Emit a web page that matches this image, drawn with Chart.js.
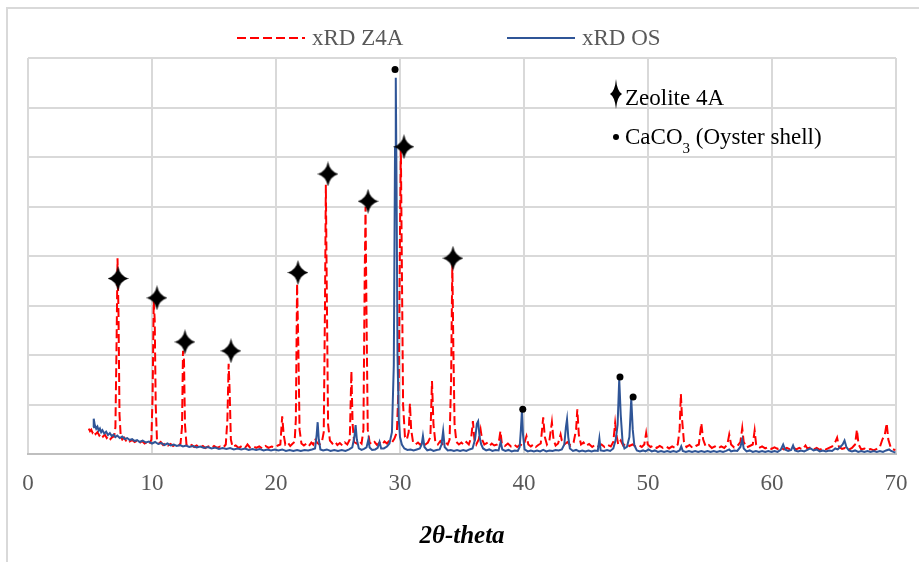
<!DOCTYPE html>
<html>
<head>
<meta charset="utf-8">
<script src="https://cdn.jsdelivr.net/npm/chart.js@4.4.1/dist/chart.umd.min.js"></script>
<style>
  html, body { margin: 0; padding: 0; background: #fff; }
  canvas { display: block; }
</style>
</head>
<body>
<canvas id="xrd" width="919" height="562"></canvas>
<script>
// x axis ticks (2θ, degrees)
const thetaTicks = [0, 10, 20, 30, 40, 50, 60, 70];

// Zeolite 4A pattern: [2θ, intensity in grid units]
const z4a = [
  [4.9,0.52],[5.0,0.47],[5.1,0.50],[5.2,0.44],[5.3,0.48],[5.45,0.41],[5.6,0.45],[5.75,0.38],[5.9,0.42],[6.05,0.36],
  [6.2,0.40],[6.35,0.33],[6.5,0.37],[6.65,0.31],[6.8,0.35],[6.95,0.36],[7.05,0.55],[7.15,2.4],[7.22,3.96],[7.3,2.8],
  [7.38,0.8],[7.48,0.36],[7.6,0.30],[7.75,0.34],[7.9,0.28],[8.05,0.31],[8.2,0.26],[8.4,0.29],[8.6,0.25],[8.8,0.28],
  [9.0,0.23],[9.2,0.27],[9.4,0.22],[9.6,0.25],[9.8,0.21],[9.95,0.30],[10.05,1.2],[10.14,3.1],[10.22,2.7],[10.3,1.0],
  [10.4,0.3],[10.55,0.22],[10.7,0.25],[10.9,0.19],[11.1,0.23],[11.3,0.18],[11.5,0.21],[11.7,0.17],[11.9,0.20],[12.1,0.16],
  [12.3,0.22],[12.42,0.55],[12.5,2.09],[12.58,1.9],[12.66,0.6],[12.78,0.2],[12.95,0.16],[13.2,0.19],[13.4,0.15],[13.6,0.18],
  [13.85,0.14],[14.1,0.17],[14.3,0.13],[14.55,0.16],[14.8,0.13],[15.0,0.17],[15.25,0.13],[15.5,0.16],[15.75,0.14],[15.95,0.2],
  [16.08,0.7],[16.18,1.83],[16.26,1.3],[16.36,0.3],[16.5,0.15],[16.75,0.18],[17.0,0.13],[17.25,0.17],[17.5,0.13],[17.7,0.2],
  [17.9,0.14],[18.15,0.17],[18.4,0.13],[18.65,0.16],[18.9,0.12],[19.15,0.17],[19.4,0.13],[19.65,0.16],[19.9,0.14],[20.15,0.18],
  [20.35,0.2],[20.5,0.77],[20.62,0.4],[20.75,0.2],[20.95,0.24],[21.15,0.17],[21.35,0.22],[21.5,0.25],[21.6,0.7],[21.7,3.45],
  [21.8,2.2],[21.9,0.5],[22.05,0.22],[22.25,0.18],[22.45,0.22],[22.65,0.17],[22.85,0.24],[23.0,0.2],[23.15,0.32],[23.3,0.24],
  [23.5,0.2],[23.7,0.25],[23.85,0.45],[23.95,3.0],[24.02,5.44],[24.1,3.2],[24.2,0.6],[24.35,0.28],[24.55,0.22],[24.75,0.26],
  [24.95,0.19],[25.15,0.23],[25.35,0.18],[25.55,0.24],[25.75,0.2],[25.95,0.3],[26.08,1.68],[26.18,0.6],[26.3,0.25],[26.5,0.22],
  [26.7,0.27],[26.9,0.22],[27.05,0.5],[27.15,3.5],[27.22,5.0],[27.3,2.8],[27.4,0.5],[27.55,0.24],[27.75,0.2],[27.95,0.25],
  [28.15,0.19],[28.35,0.24],[28.55,0.2],[28.75,0.26],[28.95,0.22],[29.15,0.28],[29.35,0.24],[29.55,0.32],[29.75,0.45],[29.9,1.5],
  [30.0,4.5],[30.07,6.15],[30.15,3.8],[30.25,1.0],[30.4,0.35],[30.55,0.3],[30.7,0.45],[30.8,1.03],[30.9,0.5],[31.05,0.25],
  [31.25,0.2],[31.45,0.24],[31.65,0.19],[31.85,0.25],[32.05,0.2],[32.25,0.24],[32.45,0.35],[32.58,1.48],[32.7,0.6],[32.85,0.25],
  [33.05,0.2],[33.25,0.27],[33.45,0.21],[33.65,0.25],[33.85,0.2],[34.0,0.3],[34.12,1.5],[34.22,3.87],[34.3,2.2],[34.4,0.6],
  [34.55,0.25],[34.75,0.2],[34.95,0.24],[35.15,0.19],[35.35,0.25],[35.55,0.2],[35.75,0.35],[35.88,0.67],[36.0,0.3],[36.15,0.2],
  [36.35,0.3],[36.5,0.5],[36.62,0.3],[36.8,0.2],[37.0,0.23],[37.2,0.17],[37.4,0.22],[37.6,0.18],[37.85,0.2],[38.0,0.3],
  [38.1,0.47],[38.22,0.2],[38.45,0.17],[38.7,0.22],[38.95,0.16],[39.2,0.2],[39.45,0.15],[39.7,0.2],[39.9,0.17],[40.05,0.25],
  [40.2,0.37],[40.35,0.2],[40.55,0.16],[40.75,0.2],[40.95,0.15],[41.15,0.19],[41.35,0.22],[41.55,0.75],[41.68,0.35],[41.85,0.2],
  [42.05,0.28],[42.25,0.65],[42.38,0.3],[42.55,0.18],[42.75,0.22],[42.95,0.4],[43.05,0.28],[43.25,0.2],[43.5,0.25],[43.75,0.18],
  [44.0,0.24],[44.2,0.5],[44.3,0.91],[44.42,0.4],[44.6,0.2],[44.8,0.24],[45.0,0.17],[45.25,0.21],[45.5,0.15],[45.75,0.2],
  [46.0,0.16],[46.25,0.2],[46.5,0.15],[46.75,0.19],[47.0,0.16],[47.2,0.25],[47.35,0.63],[47.45,0.4],[47.6,0.2],[47.8,0.28],
  [48.0,0.18],[48.25,0.22],[48.5,0.17],[48.75,0.2],[49.0,0.16],[49.25,0.19],[49.5,0.15],[49.7,0.2],[49.85,0.43],[49.98,0.2],
  [50.2,0.15],[50.45,0.18],[50.7,0.13],[50.95,0.17],[51.2,0.13],[51.45,0.16],[51.7,0.12],[51.95,0.16],[52.2,0.13],[52.4,0.2],
  [52.55,0.5],[52.65,1.22],[52.75,0.7],[52.9,0.25],[53.1,0.15],[53.35,0.19],[53.6,0.13],[53.85,0.17],[54.1,0.2],[54.3,0.63],
  [54.45,0.3],[54.65,0.16],[54.9,0.19],[55.15,0.13],[55.4,0.16],[55.65,0.12],[55.9,0.16],[56.15,0.13],[56.4,0.2],[56.55,0.4],
  [56.7,0.2],[56.95,0.14],[57.2,0.17],[57.45,0.25],[57.6,0.53],[57.72,0.25],[57.95,0.14],[58.2,0.17],[58.45,0.2],[58.6,0.48],
  [58.72,0.2],[58.95,0.13],[59.2,0.16],[59.45,0.12],[59.7,0.15],[59.95,0.11],[60.2,0.14],[60.45,0.11],[60.7,0.14],[60.95,0.1],
  [61.2,0.13],[61.45,0.1],[61.7,0.14],[61.95,0.1],[62.2,0.13],[62.45,0.1],[62.7,0.18],[62.85,0.12],[63.1,0.14],[63.35,0.1],
  [63.6,0.13],[63.85,0.09],[64.1,0.13],[64.35,0.1],[64.6,0.13],[64.85,0.16],[65.1,0.25],[65.25,0.34],[65.4,0.15],[65.65,0.11],
  [65.9,0.13],[66.15,0.09],[66.45,0.13],[66.7,0.2],[66.85,0.5],[66.98,0.2],[67.2,0.1],[67.45,0.12],[67.7,0.09],[67.95,0.11],
  [68.2,0.08],[68.45,0.11],[68.7,0.15],[68.9,0.3],[69.1,0.4],[69.25,0.63],[69.38,0.3],[69.6,0.12],[69.8,0.1],[69.95,0.09]
];

// oyster shell pattern: [2θ, intensity in grid units]
const os = [
  [5.25,0.55],[5.3,0.72],[5.38,0.6],[5.5,0.52],[5.6,0.56],[5.7,0.48],[5.8,0.52],[5.9,0.45],[6.0,0.49],[6.15,0.42],
  [6.3,0.46],[6.45,0.39],[6.6,0.43],[6.75,0.37],[6.9,0.40],[7.05,0.35],[7.2,0.38],[7.4,0.33],[7.6,0.36],[7.8,0.31],
  [8.0,0.33],[8.2,0.29],[8.4,0.31],[8.6,0.27],[8.8,0.29],[9.0,0.25],[9.25,0.28],[9.5,0.24],[9.75,0.26],[10.0,0.22],
  [10.25,0.25],[10.5,0.21],[10.75,0.23],[11.0,0.19],[11.25,0.22],[11.5,0.18],[11.75,0.2],[12.0,0.17],[12.25,0.19],[12.5,0.16],
  [12.75,0.18],[13.0,0.15],[13.3,0.17],[13.6,0.14],[13.9,0.16],[14.2,0.13],[14.5,0.15],[14.8,0.12],[15.1,0.14],[15.4,0.11],
  [15.7,0.13],[16.0,0.11],[16.3,0.13],[16.6,0.1],[16.9,0.12],[17.2,0.1],[17.5,0.12],[17.8,0.09],[18.1,0.11],[18.4,0.09],
  [18.7,0.11],[19.0,0.08],[19.3,0.1],[19.6,0.08],[19.9,0.1],[20.2,0.08],[20.5,0.1],[20.8,0.07],[21.1,0.09],[21.4,0.07],
  [21.7,0.09],[22.0,0.07],[22.3,0.09],[22.6,0.08],[22.9,0.1],[23.15,0.12],[23.28,0.4],[23.36,0.65],[23.45,0.3],[23.58,0.1],
  [23.8,0.08],[24.1,0.1],[24.4,0.07],[24.7,0.09],[25.0,0.07],[25.3,0.09],[25.6,0.07],[25.9,0.1],[26.15,0.14],[26.32,0.35],
  [26.42,0.59],[26.52,0.3],[26.68,0.12],[26.9,0.09],[27.1,0.11],[27.3,0.14],[27.45,0.3],[27.55,0.14],[27.75,0.09],[28.0,0.1],
  [28.2,0.13],[28.35,0.25],[28.48,0.12],[28.7,0.12],[28.95,0.16],[29.15,0.22],[29.35,0.45],[29.5,1.8],[29.6,6.2],[29.66,7.6],
  [29.72,5.5],[29.8,2.0],[29.9,0.7],[30.0,0.35],[30.15,0.2],[30.35,0.12],[30.6,0.09],[30.85,0.1],[31.1,0.08],[31.35,0.1],
  [31.6,0.12],[31.75,0.2],[31.85,0.37],[31.97,0.15],[32.2,0.08],[32.45,0.1],[32.7,0.07],[32.95,0.09],[33.2,0.1],[33.35,0.2],
  [33.48,0.47],[33.6,0.15],[33.85,0.08],[34.1,0.09],[34.35,0.07],[34.6,0.09],[34.85,0.07],[35.1,0.09],[35.35,0.07],[35.6,0.1],
  [35.85,0.12],[36.05,0.3],[36.2,0.62],[36.3,0.67],[36.42,0.35],[36.55,0.2],[36.7,0.12],[36.95,0.08],[37.2,0.1],[37.45,0.07],
  [37.7,0.09],[37.95,0.08],[38.12,0.25],[38.25,0.1],[38.5,0.07],[38.75,0.09],[39.0,0.06],[39.25,0.08],[39.5,0.07],[39.65,0.15],
  [39.75,0.5],[39.83,0.87],[39.92,0.4],[40.05,0.1],[40.3,0.06],[40.55,0.08],[40.8,0.06],[41.05,0.08],[41.3,0.06],[41.55,0.09],
  [41.8,0.06],[42.05,0.08],[42.3,0.07],[42.55,0.09],[42.8,0.08],[43.05,0.1],[43.25,0.2],[43.38,0.55],[43.47,0.71],[43.57,0.35],
  [43.7,0.12],[43.95,0.07],[44.2,0.09],[44.45,0.06],[44.7,0.08],[44.95,0.06],[45.2,0.08],[45.45,0.06],[45.7,0.08],[45.95,0.07],
  [46.08,0.32],[46.18,0.08],[46.45,0.07],[46.7,0.09],[46.95,0.07],[47.2,0.12],[47.4,0.3],[47.55,0.6],[47.68,1.52],[47.8,0.8],
  [47.95,0.25],[48.1,0.12],[48.3,0.15],[48.5,0.35],[48.65,1.12],[48.77,0.5],[48.9,0.18],[49.1,0.08],[49.35,0.06],[49.6,0.08],
  [49.8,0.06],[50.05,0.1],[50.3,0.06],[50.55,0.08],[50.8,0.05],[51.05,0.07],[51.3,0.05],[51.55,0.07],[51.8,0.05],[52.05,0.07],
  [52.3,0.05],[52.55,0.08],[52.68,0.16],[52.8,0.07],[53.05,0.05],[53.3,0.07],[53.55,0.05],[53.8,0.07],[54.05,0.05],[54.3,0.07],
  [54.55,0.05],[54.8,0.07],[55.05,0.05],[55.3,0.07],[55.55,0.05],[55.8,0.07],[56.05,0.05],[56.3,0.07],[56.55,0.1],[56.7,0.06],
  [56.95,0.08],[57.2,0.07],[57.45,0.15],[57.6,0.3],[57.72,0.12],[57.95,0.06],[58.2,0.08],[58.45,0.05],[58.7,0.07],[58.95,0.05],
  [59.2,0.07],[59.45,0.05],[59.7,0.07],[59.95,0.05],[60.2,0.07],[60.45,0.05],[60.7,0.09],[60.9,0.2],[61.05,0.1],[61.3,0.07],
  [61.55,0.09],[61.7,0.18],[61.85,0.08],[62.1,0.06],[62.35,0.08],[62.6,0.06],[62.85,0.09],[63.1,0.12],[63.35,0.08],[63.6,0.1],
  [63.85,0.06],[64.1,0.08],[64.35,0.06],[64.6,0.08],[64.85,0.07],[65.1,0.12],[65.3,0.1],[65.5,0.15],[65.7,0.2],[65.85,0.28],
  [66.0,0.15],[66.2,0.08],[66.45,0.06],[66.7,0.08],[66.95,0.05],[67.2,0.07],[67.45,0.05],[67.7,0.07],[67.95,0.05],[68.2,0.07],
  [68.45,0.05],[68.7,0.07],[68.95,0.05],[69.2,0.08],[69.45,0.1],[69.6,0.07],[69.8,0.05],[69.95,0.04]
];

// peak markers
const zeoliteTheta = [7.26, 10.4, 12.66, 16.37, 21.77, 24.19, 27.42, 30.32, 34.27];
const zeoliteY     = [3.55, 3.16, 2.27, 2.09, 3.67, 5.66, 5.11, 6.21, 3.96];
const calciteTheta = [29.6, 39.9, 47.74, 48.8];
const calciteY     = [7.77, 0.91, 1.56, 1.16];

const serif = "'Liberation Serif', 'Times New Roman', serif";

// four-point star glyph
function makeStar(w, h) {
  const c = document.createElement('canvas');
  c.width = w; c.height = h;
  const g = c.getContext('2d');
  const cx = w / 2, cy = h / 2, kx = w * 0.09, ky = h * 0.09;
  g.beginPath();
  g.moveTo(cx, 0);
  g.quadraticCurveTo(cx + kx, cy - ky, w, cy);
  g.quadraticCurveTo(cx + kx, cy + ky, cx, h);
  g.quadraticCurveTo(cx - kx, cy + ky, 0, cy);
  g.quadraticCurveTo(cx - kx, cy - ky, cx, 0);
  g.closePath();
  g.fillStyle = '#000';
  g.fill();
  return c;
}
const star = makeStar(21, 25);
const keyStar = makeStar(12, 30);

const toPoints = rows => rows.map(r => ({ x: r[0], y: r[1] }));
const zip = (xs, ys) => xs.map((x, i) => ({ x, y: ys[i] }));

// series legend along the top, marker key inside the plot, outer frame
const frame = {
  id: 'frame',
  beforeDraw(chart) {
    const ctx = chart.ctx;
    ctx.save();
    ctx.fillStyle = '#fff';
    ctx.fillRect(0, 0, chart.width, chart.height);
    ctx.strokeStyle = '#d9d9d9';
    ctx.lineWidth = 2;
    ctx.strokeRect(7, 8, 2000, 2000);
    ctx.restore();
  },
  afterDraw(chart) {
    const ctx = chart.ctx;
    const sets = chart.data.datasets;
    ctx.save();
    ctx.font = '23px ' + serif;
    ctx.textBaseline = 'middle';
    [[sets[0], 237], [sets[1], 507]].forEach(([ds, x0]) => {
      ctx.strokeStyle = ds.borderColor;
      ctx.lineWidth = ds.borderWidth;
      ctx.setLineDash(ds.borderDash || []);
      ctx.beginPath();
      ctx.moveTo(x0, 38);
      ctx.lineTo(x0 + 68, 38);
      ctx.stroke();
      ctx.setLineDash([]);
      ctx.fillStyle = '#595959';
      ctx.fillText(ds.label, x0 + 75, 39);
    });

    ctx.fillStyle = '#000';
    ctx.textBaseline = 'alphabetic';
    ctx.drawImage(keyStar, 610, 79);
    ctx.fillText('Zeolite 4A', 625, 105);
    ctx.beginPath();
    ctx.arc(616, 137, 3, 0, Math.PI * 2);
    ctx.fill();
    let x = 625;
    ctx.fillText('CaCO', x, 144);
    x += ctx.measureText('CaCO').width;
    ctx.font = '15px ' + serif;
    ctx.fillText('3', x, 153);
    x += ctx.measureText('3').width;
    ctx.font = '23px ' + serif;
    ctx.fillText(' (Oyster shell)', x, 144);
    ctx.restore();
  }
};

new Chart(document.getElementById('xrd'), {
  type: 'line',
  data: {
    datasets: [
      {
        label: 'xRD Z4A',
        data: toPoints(z4a),
        borderColor: '#ff0000',
        borderWidth: 2,
        borderDash: [9, 4],
        pointRadius: 0,
        tension: 0,
        order: 2
      },
      {
        label: 'xRD OS',
        data: toPoints(os),
        borderColor: '#2f5597',
        borderWidth: 2,
        pointRadius: 0,
        tension: 0,
        order: 1
      },
      {
        label: 'Zeolite 4A',
        data: zip(zeoliteTheta, zeoliteY),
        showLine: false,
        pointStyle: star,
        pointRadius: 10,
        order: 0
      },
      {
        label: 'CaCO3',
        data: zip(calciteTheta, calciteY),
        showLine: false,
        pointStyle: 'circle',
        pointRadius: 3.5,
        pointBackgroundColor: '#000',
        pointBorderColor: '#000',
        pointBorderWidth: 0,
        order: 0
      }
    ]
  },
  options: {
    responsive: false,
    animation: false,
    layout: { padding: { left: 28, right: 23, top: 58, bottom: 6 } },
    plugins: {
      tooltip: { enabled: false },
      legend: { display: false }
    },
    scales: {
      x: {
        type: 'linear',
        min: 0,
        max: 70,
        afterBuildTicks: axis => { axis.ticks = thetaTicks.map(v => ({ value: v })); },
        afterFit: axis => { axis.paddingLeft = 0; axis.paddingRight = 0; },
        ticks: { color: '#595959', font: { family: serif, size: 23 }, padding: 16 },
        grid: { color: '#d9d9d9', lineWidth: 2, drawTicks: false },
        border: { color: '#bfbfbf', width: 2 },
        title: {
          display: true,
          text: '2θ-theta',
          color: '#000',
          font: { family: serif, size: 25, weight: 'bold', style: 'italic' },
          padding: { top: 8 }
        }
      },
      y: {
        min: 0,
        max: 8,
        ticks: { display: false, stepSize: 1 },
        grid: { color: '#d9d9d9', lineWidth: 2, drawTicks: false },
        border: { display: false }
      }
    }
  },
  plugins: [frame]
});
</script>
</body>
</html>
